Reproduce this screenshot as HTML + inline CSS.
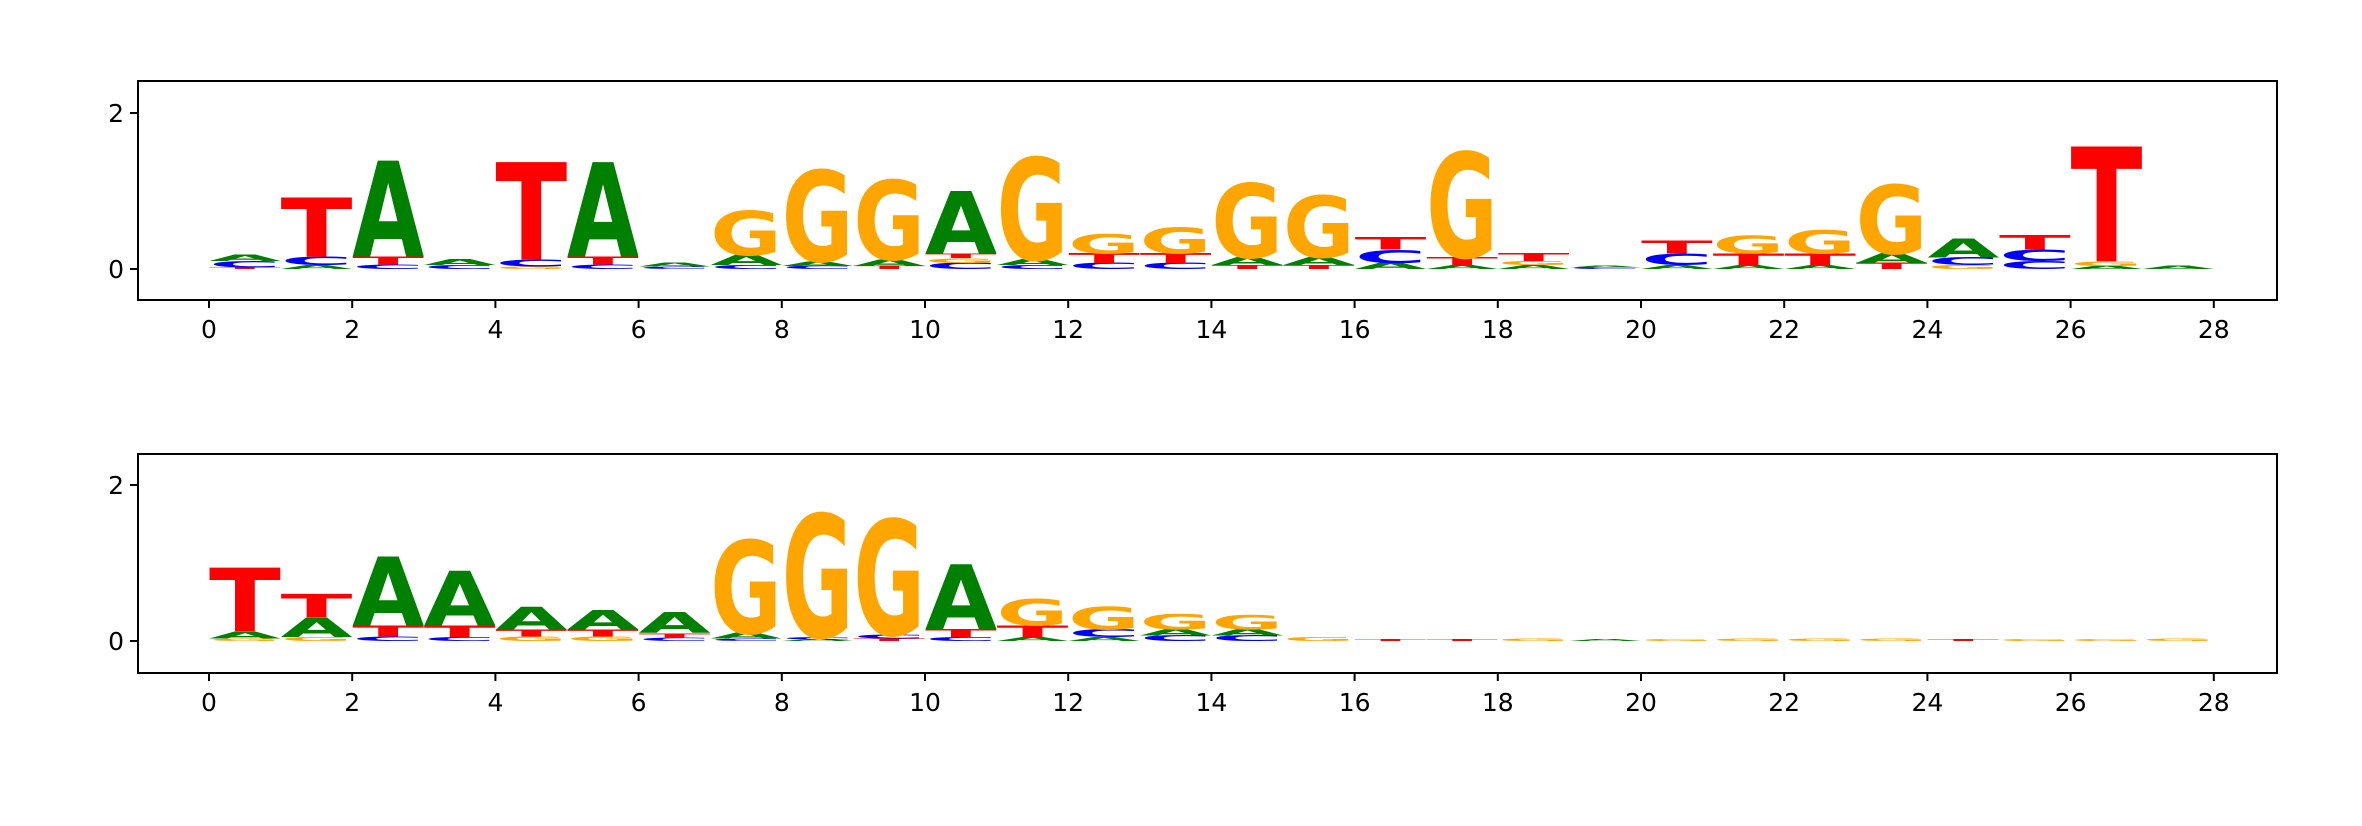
<!DOCTYPE html>
<html><head><meta charset="utf-8"><style>
html,body{margin:0;padding:0;background:#fff;}
svg{display:block;}
text.tk{font-family:"DejaVu Sans","Liberation Sans",sans-serif;font-size:25px;fill:#000;}
text.lt{font-family:"DejaVu Sans","Liberation Sans",sans-serif;font-weight:bold;}
</style></head><body>
<svg id="chart" width="2362" height="826" viewBox="0 0 2362 826" xmlns="http://www.w3.org/2000/svg"></svg>
<script>
// stacks per position, bottom to top: [letter, height]
const topStacks = [
 [["T",0.02],["C",0.08],["A",0.08]],
 [["A",0.05],["C",0.11],["T",0.76]],
 [["C",0.06],["T",0.1],["A",1.23]],
 [["C",0.05],["A",0.07]],
 [["G",0.03],["C",0.09],["T",1.25]],
 [["C",0.06],["T",0.1],["A",1.21]],
 [["C",0.03],["A",0.05]],
 [["C",0.05],["A",0.13],["G",0.57]],
 [["C",0.04],["A",0.06],["G",1.17]],
 [["T",0.04],["A",0.08],["G",1.02]],
 [["C",0.08],["G",0.06],["T",0.06],["A",0.8]],
 [["C",0.05],["A",0.07],["G",1.31]],
 [["C",0.08],["T",0.12],["G",0.25]],
 [["C",0.08],["T",0.12],["G",0.33]],
 [["T",0.05],["A",0.1],["G",0.95]],
 [["T",0.05],["A",0.1],["G",0.79]],
 [["A",0.08],["C",0.17],["T",0.16]],
 [["A",0.05],["T",0.1],["G",1.35]],
 [["A",0.05],["G",0.05],["T",0.1]],
 [["C",0.02],["A",0.02]],
 [["A",0.05],["C",0.15],["T",0.17]],
 [["A",0.05],["T",0.15],["G",0.23]],
 [["A",0.05],["T",0.15],["G",0.3]],
 [["T",0.08],["A",0.12],["G",0.88]],
 [["G",0.05],["C",0.1],["A",0.24]],
 [["C",0.1],["C",0.15],["T",0.18]],
 [["A",0.04],["G",0.06],["T",1.47]],
 [["A",0.04]]
];
const bottomStacks = [
 [["G",0.03],["A",0.09],["T",0.82]],
 [["G",0.05],["A",0.25],["T",0.3]],
 [["C",0.06],["T",0.14],["A",0.88]],
 [["C",0.05],["T",0.15],["A",0.7]],
 [["G",0.06],["T",0.09],["A",0.29]],
 [["G",0.06],["T",0.09],["A",0.25]],
 [["C",0.04],["T",0.06],["A",0.27]],
 [["C",0.03],["A",0.07],["G",1.19]],
 [["A",0.02],["C",0.03],["G",1.58]],
 [["T",0.03],["C",0.05],["G",1.48]],
 [["C",0.05],["T",0.1],["A",0.83]],
 [["A",0.05],["T",0.15],["G",0.34]],
 [["A",0.05],["C",0.1],["G",0.29]],
 [["C",0.07],["A",0.08],["G",0.2]],
 [["C",0.07],["A",0.08],["G",0.18]],
 [["G",0.05]],
 [["T",0.02]],[["T",0.02]],[["G",0.03]],[["A",0.02]],[["G",0.02]],[["G",0.03]],
 [["G",0.03]],[["G",0.03]],[["T",0.02]],[["G",0.02]],[["G",0.02]],[["G",0.03]]
];
const xTicks = [0,2,4,6,8,10,12,14,16,18,20,22,24,26,28];
const yTicks = [0,2];
const colors = {A:"#008000",C:"#0000ff",G:"#ffa500",T:"#ff0000"};
const adv = {A:0.77,C:0.73,G:0.82,T:0.68};

const NS="http://www.w3.org/2000/svg";
const svg=document.getElementById('chart');
function mk(tag,attrs,parent){const e=document.createElementNS(NS,tag);for(const k in attrs)e.setAttribute(k,attrs[k]);parent.appendChild(e);return e;}

function panel(stacks, top, bottom, y0px, name){
  const g=mk('g',{},svg);
  
  
  const left=138,right=2277,x0px=209,ux=71.6,uy=78;
  const sx=v=>x0px+v*ux, sy=v=>y0px-v*uy;
  const marks=mk('g',{},g);
  
  
  stacks.forEach((st,i)=>{
    let base=0;
    st.forEach(([L,h])=>{
      const x=sx(i), w=ux, yb=sy(base), hp=h*uy;
      const t=mk('text',{class:'lt',x:0,y:0,'font-size':100,fill:colors[L],
        transform:`translate(${x},${yb}) scale(${w/(adv[L]*100)},${hp/72.9})`},marks);
      
      
      t.textContent=L;
      base+=h;
    });
  });
  const fr=mk('rect',{x:left,y:top,width:right-left,height:bottom-top,fill:'none',stroke:'#000','stroke-width':2},g);
  
  
  xTicks.forEach(v=>{
    const l=mk('line',{x1:sx(v),x2:sx(v),y1:bottom,y2:bottom+8,stroke:'#000','stroke-width':2},g);
    
    
    const t=mk('text',{class:'tk',x:sx(v),y:bottom+38,'text-anchor':'middle'},g);
    
    
    t.textContent=v;
  });
  yTicks.forEach(v=>{
    const l=mk('line',{x1:left-8,x2:left,y1:sy(v),y2:sy(v),stroke:'#000','stroke-width':2},g);
    
    
    const t=mk('text',{class:'tk',x:left-14,y:sy(v)+9,'text-anchor':'end'},g);
    
    
    t.textContent=v;
  });
}
panel(topStacks,81,300,269,'top-logo-panel');
panel(bottomStacks,454,673,641,'bottom-logo-panel');
</script>
</body></html>
